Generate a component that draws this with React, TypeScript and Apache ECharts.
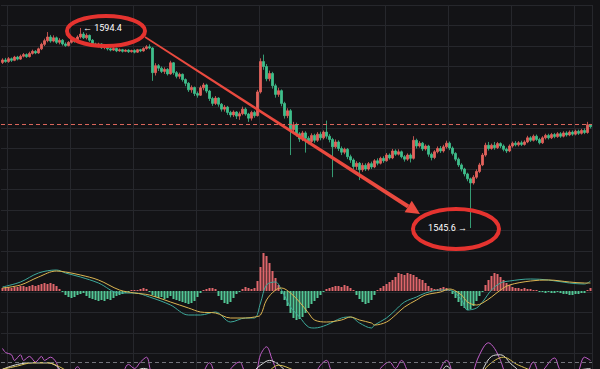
import React, { useEffect, useRef } from 'react';
import * as echarts from 'echarts';

const opens = [1586.0,1586.6,1586.2,1586.9,1586.5,1587.3,1586.8,1587.5,1587.9,1587.4,1588.2,1588.7,1588.3,1589.3,1590.4,1591.3,1592.2,1591.2,1592.0,1590.9,1591.4,1590.5,1590.1,1590.9,1591.6,1591.1,1592.2,1592.9,1592.0,1592.6,1591.4,1590.5,1590.1,1590.5,1589.6,1589.9,1589.3,1589.0,1589.4,1588.8,1589.1,1588.7,1589.0,1588.6,1588.9,1588.5,1589.1,1588.8,1589.4,1589.8,1589.5,1583.5,1585.2,1584.6,1583.8,1584.3,1583.2,1585.9,1583.5,1582.6,1583.1,1581.8,1580.9,1579.3,1579.9,1578.4,1578.0,1579.8,1580.5,1579.0,1577.2,1576.0,1577.3,1575.8,1574.6,1575.1,1573.8,1573.2,1573.9,1572.9,1573.5,1574.6,1573.4,1572.4,1573.8,1573.0,1578.8,1586.2,1585.0,1582.0,1583.3,1580.3,1578.2,1579.1,1576.0,1573.0,1574.2,1569.6,1570.8,1568.6,1567.3,1568.8,1567.5,1566.7,1568.2,1567.0,1568.5,1567.6,1569.0,1568.0,1567.2,1565.4,1566.6,1565.0,1564.1,1564.8,1563.0,1562.2,1560.6,1561.4,1559.8,1560.9,1560.0,1561.3,1560.5,1562.0,1561.4,1562.6,1562.0,1563.4,1562.7,1564.4,1563.6,1564.2,1563.0,1562.4,1563.4,1562.6,1567.0,1565.6,1566.3,1564.9,1565.6,1563.6,1562.8,1564.2,1565.0,1564.4,1565.4,1566.3,1565.1,1563.8,1562.4,1561.0,1560.0,1558.8,1557.6,1556.6,1558.0,1559.4,1561.0,1563.4,1565.8,1565.0,1565.8,1565.2,1566.2,1565.6,1564.8,1564.4,1565.6,1566.3,1565.9,1566.4,1566.0,1566.6,1567.6,1567.0,1568.0,1567.2,1566.4,1567.6,1568.2,1567.6,1568.4,1567.9,1568.6,1568.0,1568.8,1568.3,1569.0,1568.5,1569.2,1568.7,1569.4,1568.9,1570.8];
const closes = [1586.6,1586.2,1586.9,1586.5,1587.3,1586.8,1587.5,1587.9,1587.4,1588.2,1588.7,1588.3,1589.3,1590.4,1591.3,1592.2,1591.2,1592.0,1590.9,1591.4,1590.5,1590.1,1590.9,1591.6,1591.1,1592.2,1592.9,1592.0,1592.6,1591.4,1590.5,1590.1,1590.5,1589.6,1589.9,1589.3,1589.0,1589.4,1588.8,1589.1,1588.7,1589.0,1588.6,1588.9,1588.5,1589.1,1588.8,1589.4,1589.8,1589.5,1583.5,1585.2,1584.6,1583.8,1584.3,1583.2,1585.9,1583.5,1582.6,1583.1,1581.8,1580.9,1579.3,1579.9,1578.4,1578.0,1579.8,1580.5,1579.0,1577.2,1576.0,1577.3,1575.8,1574.6,1575.1,1573.8,1573.2,1573.9,1572.9,1573.5,1574.6,1573.4,1572.4,1573.8,1573.0,1578.8,1586.2,1585.0,1582.0,1583.3,1580.3,1578.2,1579.1,1576.0,1573.0,1574.2,1569.6,1570.8,1568.6,1567.3,1568.8,1567.5,1566.7,1568.2,1567.0,1568.5,1567.6,1569.0,1568.0,1567.2,1565.4,1566.6,1565.0,1564.1,1564.8,1563.0,1562.2,1560.6,1561.4,1559.8,1560.9,1560.0,1561.3,1560.5,1562.0,1561.4,1562.6,1562.0,1563.4,1562.7,1564.4,1563.6,1564.2,1563.0,1562.4,1563.4,1562.6,1567.0,1565.6,1566.3,1564.9,1565.6,1563.6,1562.8,1564.2,1565.0,1564.4,1565.4,1566.3,1565.1,1563.8,1562.4,1561.0,1560.0,1558.8,1557.6,1556.6,1558.0,1559.4,1561.0,1563.4,1565.8,1565.0,1565.8,1565.2,1566.2,1565.6,1564.8,1564.4,1565.6,1566.3,1565.9,1566.4,1566.0,1566.6,1567.6,1567.0,1568.0,1567.2,1566.4,1567.6,1568.2,1567.6,1568.4,1567.9,1568.6,1568.0,1568.8,1568.3,1569.0,1568.5,1569.2,1568.7,1569.4,1568.9,1570.8,1570.3];
const lows = [1585.6,1585.9,1585.9,1586.1,1586.3,1586.5,1586.6,1587.2,1587.1,1587.2,1587.9,1588.0,1588.1,1589.0,1590.0,1590.9,1590.8,1590.9,1590.5,1590.4,1590.1,1589.8,1589.9,1590.6,1590.8,1590.9,1591.8,1591.7,1591.6,1591.0,1590.2,1589.8,1589.7,1589.3,1589.2,1588.9,1588.7,1588.8,1588.5,1588.6,1588.4,1588.5,1588.3,1588.4,1588.2,1588.3,1588.5,1588.6,1589.1,1589.2,1581.5,1582.8,1583.9,1583.4,1583.2,1582.8,1583.0,1583.0,1582.1,1582.0,1581.3,1580.2,1578.8,1578.6,1577.8,1577.4,1577.8,1579.2,1578.5,1576.6,1575.4,1575.6,1575.2,1574.0,1574.0,1573.2,1572.6,1572.7,1572.2,1572.0,1573.1,1573.0,1571.5,1571.8,1572.5,1572.8,1578.4,1584.2,1581.4,1581.4,1579.6,1577.4,1577.6,1575.3,1572.3,1572.4,1563.4,1568.6,1567.9,1566.6,1566.8,1564.0,1566.0,1566.3,1566.4,1566.6,1567.0,1567.2,1567.4,1566.5,1558.0,1565.0,1564.4,1563.4,1563.6,1562.4,1561.5,1560.0,1559.8,1557.3,1559.3,1559.5,1559.6,1560.0,1560.2,1560.9,1561.1,1561.5,1561.8,1562.3,1562.4,1563.2,1563.3,1562.6,1561.8,1562.0,1561.6,1562.3,1565.0,1565.2,1564.4,1564.5,1563.0,1562.1,1562.4,1563.8,1563.9,1564.0,1565.0,1564.6,1563.3,1561.9,1560.5,1559.4,1558.2,1557.0,1545.6,1556.2,1557.6,1559.0,1560.7,1563.0,1564.5,1564.7,1564.7,1564.9,1565.1,1564.3,1563.9,1564.1,1565.2,1565.5,1565.5,1565.6,1565.7,1566.3,1566.6,1566.7,1566.8,1566.0,1566.1,1567.2,1567.2,1567.3,1567.5,1567.6,1567.6,1567.7,1567.9,1568.0,1568.1,1568.2,1568.3,1568.4,1568.5,1568.6,1569.9];
const highs = [1587.0,1587.1,1587.3,1587.2,1587.6,1587.6,1587.9,1588.3,1588.2,1588.6,1589.1,1589.0,1589.6,1590.8,1591.8,1593.4,1592.7,1592.6,1592.3,1591.9,1591.7,1590.9,1591.2,1592.0,1592.0,1592.6,1594.4,1593.4,1593.1,1592.8,1591.7,1590.8,1590.8,1590.7,1590.2,1590.1,1589.6,1589.7,1589.6,1589.4,1589.3,1589.2,1589.2,1589.1,1589.2,1589.3,1589.3,1589.7,1590.2,1590.4,1589.7,1585.8,1585.6,1585.0,1584.8,1584.6,1586.4,1586.1,1583.9,1583.5,1583.3,1582.1,1581.2,1580.4,1580.1,1578.9,1580.3,1581.0,1580.8,1579.3,1577.6,1577.8,1577.5,1576.1,1575.6,1575.4,1574.2,1574.3,1574.1,1574.0,1575.2,1575.0,1573.7,1574.2,1574.2,1579.3,1587.0,1587.9,1585.6,1584.0,1583.7,1580.8,1579.8,1579.4,1576.4,1574.8,1574.6,1571.5,1571.3,1569.0,1569.3,1569.2,1568.0,1568.7,1568.6,1569.0,1569.1,1569.4,1571.8,1568.5,1567.6,1567.2,1567.0,1565.5,1565.2,1565.1,1563.5,1562.6,1561.9,1561.7,1561.5,1561.4,1561.7,1561.8,1562.4,1562.6,1563.0,1563.1,1563.9,1563.8,1564.9,1564.8,1564.8,1564.5,1563.4,1563.8,1563.8,1568.0,1567.4,1566.8,1566.6,1566.0,1565.9,1564.0,1564.6,1565.5,1565.6,1565.9,1566.9,1566.7,1565.5,1564.1,1562.8,1561.4,1560.3,1559.1,1557.9,1558.5,1559.9,1561.5,1563.9,1566.4,1566.6,1566.2,1566.6,1566.6,1566.5,1566.0,1565.2,1566.0,1566.7,1566.8,1566.8,1566.9,1567.0,1568.1,1568.0,1568.4,1568.4,1567.6,1568.0,1568.6,1568.6,1568.8,1568.8,1569.0,1569.0,1569.2,1569.2,1569.4,1569.4,1569.6,1569.6,1569.8,1569.9,1571.5,1571.0];
const categories = closes.map((_, i) => String(i + 1));
const lastPrice = 1571.0;

const macdHist = [0.3,0.4,0.4,0.3,0.4,0.4,0.5,0.5,0.4,0.5,0.6,0.5,0.6,0.7,0.8,0.7,0.8,0.7,0.5,0.2,-0.1,-0.4,-0.6,-0.7,-0.6,-0.4,-0.3,-0.2,-0.5,-0.7,-0.8,-0.9,-1.0,-0.9,-1.0,-0.8,-0.9,-0.7,-0.5,-0.4,-0.3,-0.2,-0.1,0.1,0.1,0.1,0.2,0.3,0.2,-0.1,-0.4,-0.6,-0.7,-0.6,-0.8,-0.7,-0.5,-0.8,-0.9,-1.0,-1.1,-1.2,-1.3,-1.2,-1.0,-0.6,-0.2,0.1,0.2,0.3,0.3,0.2,-0.5,-0.9,-1.2,-1.3,-1.1,-0.7,-0.3,-0.1,0.2,0.4,0.3,0.2,0.3,1.0,2.4,3.8,3.5,2.8,2.0,1.3,0.6,-0.3,-0.9,-1.5,-2.2,-2.7,-2.9,-2.8,-2.6,-2.2,-1.7,-1.3,-1.0,-0.7,-0.4,-0.1,0.2,0.3,0.4,0.5,0.5,0.4,0.6,0.5,0.3,0.1,-0.4,-0.8,-1.1,-1.3,-1.2,-0.9,-0.4,0.1,0.3,0.5,0.7,0.9,1.1,1.4,1.8,1.7,1.6,1.8,1.7,1.6,1.4,1.2,1.1,0.8,0.5,0.3,0.2,0.2,0.3,0.4,0.3,0.1,-0.3,-0.7,-1.1,-1.5,-1.7,-1.9,-1.8,-1.5,-1.0,-0.5,-0.1,0.6,1.1,1.5,1.8,1.7,1.4,1.1,0.8,0.6,0.4,0.3,0.3,0.2,0.3,0.2,0.2,0.1,0.1,-0.1,-0.1,-0.2,-0.1,-0.2,-0.2,-0.1,-0.2,-0.3,-0.3,-0.4,-0.4,-0.3,-0.3,-0.2,-0.2,0.1,0.3];

const difIdx = [0,6,12,18,21,26,32,39,44,49,56,62,66,71,76,81,84,86,88,91,93,96,99,102,104,108,113,116,119,123,124,128,131,134,138,141,146,149,153,155,158,160,163,166,169,176,182,189,194,196];
const difVals = [0.4,0.9,1.8,2.1,1.8,1.4,0.8,-0.2,-0.2,-0.6,-1.4,-2.4,-2.4,-2.1,-3.1,-2.7,-2.7,-1.2,0.6,0.9,0.1,-1.6,-2.6,-3.6,-3.7,-3.4,-2.7,-2.6,-3.2,-3.7,-3.4,-2.7,-1.9,-1.1,-0.6,-0.2,0.1,0.1,-0.9,-1.9,-1.7,-1.1,0.1,0.8,1.0,1.2,1.1,0.8,0.7,1.0];
const deaIdx = difIdx;
const deaVals = [0.3,0.6,1.4,2.0,1.9,1.6,1.1,0.1,-0.2,-0.4,-1.1,-1.7,-2.1,-2.2,-2.7,-2.7,-2.6,-2.4,-0.9,0.1,0.3,-0.2,-1.1,-2.2,-2.9,-3.1,-2.9,-2.6,-2.9,-3.2,-3.4,-3.1,-2.4,-1.6,-0.9,-0.4,-0.1,0.2,-0.4,-1.1,-1.4,-1.2,-0.6,0.1,0.6,1.0,1.1,0.9,0.8,0.8];

const jIdx = [0,1,3,4,6,7,9,11,13,14,16,18,19,22,25,27,33,39,42,44,46,48,50,56,66,69,72,79,81,84,86,88,90,93,99,106,108,110,119,127,129,131,133,136,143,148,151,156,157,159,162,164,166,168,173,177,179,184,186,191,194,196];
const jVals = [97,92,89,82,89,82,87,80,87,82,86,79,67,57,74,64,45,57,77,72,80,86,64,51,64,79,57,80,67,64,89,99,82,57,39,76,82,67,45,76,80,72,82,64,57,82,57,39,67,89,104,97,82,64,51,80,67,85,70,64,86,82];
const kIdx = [0,5,10,15,18,21,30,40,47,52,60,70,80,86,89,92,96,105,115,128,135,145,148,152,156,160,163,166,170,175,185,196];
const kVals = [71,77,79,79,75,64,51,57,72,64,45,64,60,76,82,77,64,51,45,67,67,64,75,51,39,70,87,89,76,64,67,72];
const dIdx = [0,5,10,15,19,24,35,47,55,65,80,88,92,97,105,120,135,148,156,162,167,172,180,196];
const dVals = [71,75,79,79,74,64,51,62,57,51,57,67,76,70,57,51,60,65,51,76,86,76,67,67];

const sparse = (idx: number[], vals: number[]) => {
  const a: (number | null)[] = categories.map(() => null);
  idx.forEach((k, j) => { a[k] = vals[j]; });
  return a;
};

export default function App() {
  const ref = useRef<HTMLDivElement>(null);
  useEffect(() => {
    document.body.style.margin = '0';
    const chart = echarts.init(ref.current!, null, { renderer: 'svg' });
    const gridLine = '#26272c';
    const candleData = opens.map((o, i) => [o, closes[i], lows[i], highs[i]]);
    const lineBase = (name: string, xi: number, data: (number | null)[], color: string) => ({
      name, type: 'line', xAxisIndex: xi, yAxisIndex: xi, data, connectNulls: true,
      smooth: 0.35, symbol: 'none', lineStyle: { color, width: 1 }, silent: true,
    });
    const red = '#e5332f';
    const vSplit = { show: true, interval: (i: number) => i % 21 === 2, lineStyle: { color: gridLine, width: 1 } };
    chart.setOption({
      animation: false,
      backgroundColor: '#131316',
      grid: [
        { left: 1, right: 8, top: 5, height: 348.5 },
        { left: 1, right: 8, top: 241, height: 100 },
        { left: 1, right: 8, top: 330, height: 39 },
      ],
      xAxis: [0, 1, 2].map((g) => ({
        type: 'category', gridIndex: g, data: categories, boundaryGap: true,
        axisLine: { show: false }, axisTick: { show: false }, axisLabel: { show: false },
        splitLine: g === 1 ? { show: false } : vSplit,
      })),
      yAxis: [
        { type: 'value', gridIndex: 0, min: 1515, max: 1600, interval: 5,
          axisLine: { show: false }, axisTick: { show: false }, axisLabel: { show: false },
          splitLine: { show: true, lineStyle: { color: gridLine, width: 1 } } },
        { type: 'value', gridIndex: 1, min: -5, max: 5, show: false, splitLine: { show: false } },
        { type: 'value', gridIndex: 2, min: 71.25, max: 120, show: false, splitLine: { show: false } },
      ],
      series: [
        {
          type: 'candlestick', xAxisIndex: 0, yAxisIndex: 0, data: candleData, barWidth: 2.2,
          itemStyle: { color: '#e4625c', color0: '#3fbf8c', borderColor: '#e4625c', borderColor0: '#3fbf8c', borderWidth: 0.8 },
          markLine: {
            silent: true, symbol: 'none', label: { show: false },
            lineStyle: { color: '#d9655b', type: [4, 3], width: 1 },
            data: [{ yAxis: lastPrice }],
          },
          markPoint: {
            symbol: 'circle', symbolSize: 1, itemStyle: { color: 'rgba(0,0,0,0)' },
            data: [
              { type: 'max', valueDim: 'highest', label: { show: true, position: 'right', distance: 2, formatter: '← {c}', color: '#ffffff', fontSize: 9, fontFamily: 'Roboto, Arial, sans-serif' } },
              { type: 'min', valueDim: 'lowest', label: { show: true, position: 'left', distance: 3, formatter: '{c} →', color: '#ffffff', fontSize: 9, fontFamily: 'Roboto, Arial, sans-serif' } },
            ],
          },
        },
        {
          type: 'bar', xAxisIndex: 1, yAxisIndex: 1, barWidth: 2, silent: true,
          data: macdHist.map((v) => ({ value: v, itemStyle: { color: v >= 0 ? '#e0666b' : '#52c795' } })),
        },
        lineBase('DIF', 1, sparse(difIdx, difVals), '#3ea99b'),
        lineBase('DEA', 1, sparse(deaIdx, deaVals), '#dcb552'),
        {
          ...lineBase('J', 2, sparse(jIdx, jVals), '#c05ec9'),
          markLine: { silent: true, symbol: 'none', label: { show: false }, lineStyle: { color: '#72737a', type: [4, 3], width: 1 }, data: [{ yAxis: 80 }] },
        },
        lineBase('K', 2, sparse(kIdx, kVals), '#dddddd'),
        lineBase('D', 2, sparse(dIdx, dVals), '#d8c055'),
      ],
      graphic: [
        { type: 'ellipse', z: 100, shape: { cx: 106, cy: 31, rx: 39, ry: 15 }, style: { fill: 'none', stroke: red, lineWidth: 4 } },
        { type: 'ellipse', z: 100, shape: { cx: 456, cy: 229, rx: 43, ry: 20 }, style: { fill: 'none', stroke: red, lineWidth: 4 } },
        { type: 'polygon', z: 100, shape: { points: [[145.4, 36.3], [144.6, 37.7], [407.1, 208.2], [409.3, 204.8]] }, style: { fill: '#ea4a3f' } },
        { type: 'polygon', z: 100, shape: { points: [[420, 214], [404.6, 212.2], [411.8, 200.8]] }, style: { fill: '#ea4a3f' } },
      ],
    });
    return () => chart.dispose();
  }, []);
  return <div ref={ref} style={{ width: 600, height: 369 }} />;
}
